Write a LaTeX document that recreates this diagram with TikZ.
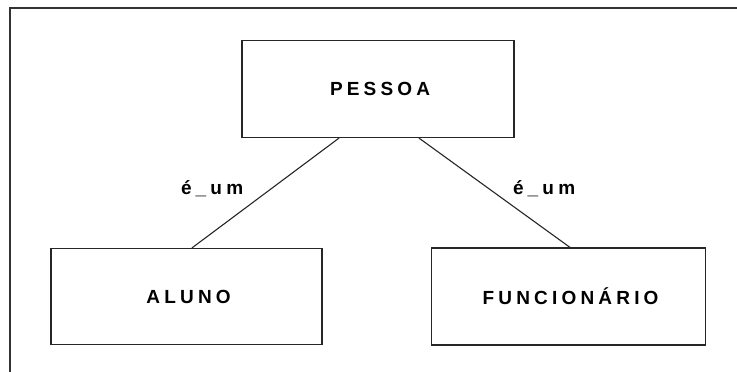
\documentclass[tikz,border=0pt]{standalone}
\usepackage{fontspec}
\newfontfamily\boxfont[LetterSpace=22]{Liberation Sans}
\newcommand{\ls}{\kern-4.2pt}
\begin{document}
\begin{tikzpicture}[x=1pt,y=-1pt,
  entity/.style={draw=black!85,line width=1.2pt,fill=none,inner sep=0pt,
    font=\boxfont\bfseries\fontsize{19}{22}\selectfont},
  rel/.style={inner sep=0pt,font=\boxfont\bfseries\fontsize{19}{22}\selectfont},
  link/.style={draw=black!85,line width=1.1pt}]
\useasboundingbox (0,0) rectangle (737,372);
\fill[white] (0,0) rectangle (737,372);
% outer frame (open at right and bottom)
\draw[black!80,line width=1.3pt] (10,372) -- (10,8) -- (737,8);
\node[entity,minimum width=272pt,minimum height=97pt] (pessoa) at (378,89) {PESSOA\ls};
\node[entity,minimum width=271pt,minimum height=96pt] (aluno) at (186.5,296.5) {ALUNO\ls};
\node[entity,minimum width=274pt,minimum height=97pt] (func) at (568.5,296.5) {FUNCIONÁRIO\ls};
\draw[link] ([xshift=-39pt]pessoa.south) -- ([xshift=5.5pt]aluno.north);
\draw[link] ([xshift=41pt]pessoa.south) -- ([xshift=1.5pt]func.north);
\node[rel] (l1) at (210,189) {é\_um\ls};
\node[rel] (l2) at (542,189) {é\_um\ls};
\end{tikzpicture}
\end{document}
